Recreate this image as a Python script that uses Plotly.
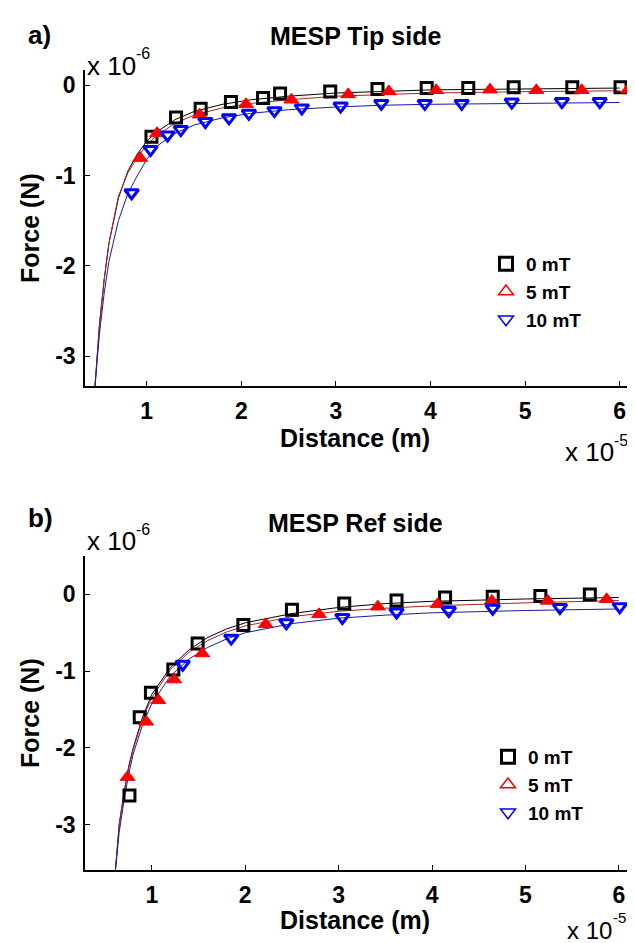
import plotly.graph_objects as go

# ---------------- data (x in units of 1e-5 m, force in units of 1e-6 N) -------------
# Panel a) MESP Tip side
a_x_0mT = [1.05, 1.31, 1.57, 1.89, 2.23, 2.41, 2.94, 3.44, 3.96, 4.40, 4.88, 5.50, 6.01]
a_y_0mT = [-0.57, -0.355, -0.26, -0.185, -0.14, -0.09, -0.067, -0.04, -0.03, -0.03, -0.02, -0.02, -0.02]
a_x_5mT = [0.93, 1.11, 1.56, 2.05, 2.53, 3.13, 3.56, 4.06, 4.63, 5.12, 5.60, 6.09]
a_y_5mT = [-0.806, -0.53, -0.325, -0.21, -0.16, -0.10, -0.067, -0.055, -0.048, -0.055, -0.055, -0.048]
a_x_10mT = [0.84, 1.04, 1.22, 1.36, 1.62, 1.87, 2.08, 2.35, 2.64, 3.05, 3.48, 3.94, 4.33, 4.86, 5.39, 5.79]
a_y_10mT = [-1.19, -0.71, -0.55, -0.49, -0.40, -0.36, -0.31, -0.28, -0.25, -0.23, -0.20, -0.20, -0.20, -0.185, -0.18, -0.18]

# fitted curves, panel a)
fit_x = [0.453, 0.5, 0.55, 0.6, 0.7, 0.8, 0.9, 1.0, 1.1, 1.3, 1.5, 1.8, 2.1, 2.5, 3.0, 3.5, 4.0, 5.0, 6.0]
a_fit_0mT = [-3.33, -2.65, -2.15, -1.75, -1.25, -0.95, -0.76, -0.62, -0.52, -0.38, -0.29, -0.21, -0.16, -0.12, -0.085, -0.065, -0.05, -0.04, -0.03]
a_fit_5mT = [-3.33, -2.65, -2.15, -1.75, -1.23, -0.97, -0.80, -0.66, -0.56, -0.42, -0.33, -0.25, -0.20, -0.16, -0.12, -0.10, -0.085, -0.07, -0.06]
a_fit_10mT = [-3.33, -2.75, -2.30, -1.95, -1.50, -1.20, -1.00, -0.82, -0.68, -0.53, -0.44, -0.36, -0.31, -0.27, -0.24, -0.22, -0.21, -0.20, -0.19]

# Panel b) MESP Ref side
b_x_0mT = [0.76, 0.87, 0.99, 1.23, 1.49, 1.98, 2.50, 3.06, 3.62, 4.14, 4.65, 5.16, 5.69]
b_y_0mT = [-2.62, -1.60, -1.28, -0.98, -0.64, -0.40, -0.20, -0.12, -0.08, -0.04, -0.03, -0.02, 0.0]
b_x_5mT = [0.74, 0.94, 1.07, 1.24, 1.54, 2.22, 2.79, 3.42, 4.06, 4.64, 5.24, 5.87]
b_y_5mT = [-2.38, -1.66, -1.38, -1.11, -0.77, -0.39, -0.26, -0.16, -0.13, -0.085, -0.085, -0.064]
b_x_10mT = [1.33, 1.85, 2.44, 3.04, 3.62, 4.18, 4.65, 5.37, 6.01]
b_y_10mT = [-0.91, -0.57, -0.37, -0.30, -0.23, -0.21, -0.18, -0.17, -0.16]

b_fit_x = [0.61, 0.65, 0.7, 0.75, 0.8, 0.9, 1.0, 1.2, 1.4, 1.6, 1.8, 2.0, 2.5, 3.0, 3.5, 4.0, 5.0, 6.0]
b_fit_0mT = [-3.59, -3.0, -2.6, -2.25, -2.0, -1.6, -1.3, -0.95, -0.72, -0.56, -0.45, -0.37, -0.25, -0.17, -0.12, -0.09, -0.06, -0.04]
b_fit_5mT = [-3.59, -3.0, -2.6, -2.27, -2.02, -1.63, -1.34, -0.98, -0.75, -0.60, -0.49, -0.41, -0.29, -0.22, -0.18, -0.15, -0.11, -0.08]
b_fit_10mT = [-3.59, -3.1, -2.7, -2.35, -2.08, -1.70, -1.42, -1.06, -0.84, -0.69, -0.58, -0.50, -0.38, -0.31, -0.27, -0.24, -0.21, -0.19]

series_names = ["0 mT", "5 mT", "10 mT"]
x_tickvals = [1, 2, 3, 4, 5, 6]
x_ticktext = ["1", "2", "3", "4", "5", "6"]
y_tickvals = [0, -1, -2, -3]
y_ticktext = ["0", "-1", "-2", "-3"]

# ---------------- layout helpers ----------------
W, H = 635, 943
L, R, T, B = 77, 13, 62, 81
PW, PH = W - L - R, H - T - B


def px(xp):
    return (xp - L) / PW


def py(yp):
    return (H - B - yp) / PH


FONT = "Liberation Sans, Arial, Helvetica, sans-serif"
BLACK, RED, BLUE = "#000000", "#ff0000", "#0000ff"
LINE_RED, LINE_BLUE = "#b22222", "#1a1aa8"

fig = go.Figure()


def add_panel(xa, ya, xs, ys, fx, fys, legend):
    colors = [BLACK, RED, BLUE]
    linecols = [BLACK, LINE_RED, LINE_BLUE]
    symbols = ["square-open", "triangle-up", "triangle-down-open"]
    sizes = [11, 13, 12]
    widths = [3, 1, 3]
    for i in range(3):
        fig.add_trace(go.Scatter(x=fx, y=fys[i], mode="lines",
                                 line=dict(color=linecols[i], width=1),
                                 xaxis=xa, yaxis=ya, showlegend=False, hoverinfo="skip"))
    for i in range(3):
        fig.add_trace(go.Scatter(x=xs[i], y=ys[i], mode="markers", name=series_names[i],
                                 marker=dict(symbol=symbols[i], size=sizes[i], color=colors[i],
                                             line=dict(color=colors[i], width=widths[i])),
                                 xaxis=xa, yaxis=ya, showlegend=False))
    leg_symbols = ["square-open", "triangle-up-open", "triangle-down-open"]
    leg_widths = [3, 1.5, 1.5]
    for i in range(3):
        fig.add_trace(go.Scatter(x=[None], y=[None], mode="markers", name=series_names[i],
                                 marker=dict(symbol=leg_symbols[i], size=13, color=colors[i],
                                             line=dict(color=colors[i], width=leg_widths[i])),
                                 xaxis=xa, yaxis=ya, legend=legend, showlegend=True))


add_panel("x", "y", [a_x_0mT, a_x_5mT, a_x_10mT], [a_y_0mT, a_y_5mT, a_y_10mT],
          fit_x, [a_fit_0mT, a_fit_5mT, a_fit_10mT], "legend")
add_panel("x2", "y2", [b_x_0mT, b_x_5mT, b_x_10mT], [b_y_0mT, b_y_5mT, b_y_10mT],
          b_fit_x, [b_fit_0mT, b_fit_5mT, b_fit_10mT], "legend2")

axis_common = dict(showgrid=False, zeroline=False, showline=True, linecolor="black",
                   linewidth=1.5, ticks="inside", ticklen=5, tickcolor="black",
                   tickfont=dict(family=FONT, size=23, color="black", weight="bold"))

fig.update_layout(
    width=W, height=H,
    margin=dict(l=L, r=R, t=T, b=B),
    paper_bgcolor="white", plot_bgcolor="white",
    xaxis=dict(domain=[0, 1], anchor="y", range=[0.347, 6.11], ticklabelstandoff=4,
               tickvals=x_tickvals, ticktext=x_ticktext, **axis_common),
    yaxis=dict(domain=[py(378), 1], anchor="x", range=[-3.33, 0.17], ticklabelstandoff=3,
               tickvals=y_tickvals, ticktext=y_ticktext, **axis_common),
    xaxis2=dict(domain=[0, 1], anchor="y2", range=[0.284, 6.12], ticklabelstandoff=4,
                tickvals=x_tickvals, ticktext=x_ticktext, **axis_common),
    yaxis2=dict(domain=[0, py(548)], anchor="x2", range=[-3.59, 0.5], ticklabelstandoff=3,
                tickvals=y_tickvals, ticktext=y_ticktext, **axis_common),
    legend=dict(x=px(478), y=py(237), xanchor="left", yanchor="top",
                bgcolor="rgba(255,255,255,0)", borderwidth=0,
                font=dict(family=FONT, size=19, color="black", weight="bold")),
    legend2=dict(x=px(480), y=py(730), xanchor="left", yanchor="top",
                 bgcolor="rgba(255,255,255,0)", borderwidth=0,
                 font=dict(family=FONT, size=19, color="black", weight="bold")),
    showlegend=True,
)


def ann(text, x, y, size, xanchor="center", yanchor="middle", angle=0, bold=True):
    fig.add_annotation(text=text, x=px(x), y=py(y), xref="paper", yref="paper",
                       xanchor=xanchor, yanchor=yanchor, showarrow=False, textangle=angle,
                       font=dict(family=FONT, size=size, color="black",
                                 weight="bold" if bold else "normal"))


# panel a) texts
ann("a)", 18, 27, 26, xanchor="left")
ann("MESP Tip side", 347, 28, 25)
ann("x 10", 77, 58, 26, xanchor="left", bold=False)
ann("-6", 126, 46, 16, xanchor="left", bold=False)
ann("Force (N)", 22, 220, 25, angle=-90)
ann("Distance (m)", 347, 430, 25)
ann("x 10", 555, 444, 26, xanchor="left", bold=False)
ann("-5", 604, 432, 16, xanchor="left", bold=False)

# panel b) texts
ann("b)", 18, 510, 26, xanchor="left")
ann("MESP Ref side", 347, 515, 25)
ann("x 10", 77, 533, 26, xanchor="left", bold=False)
ann("-6", 126, 521, 16, xanchor="left", bold=False)
ann("Force (N)", 22, 705, 25, angle=-90)
ann("Distance (m)", 347, 912, 25)
ann("x 10", 557, 922, 24, xanchor="left", bold=False)
ann("-5", 603, 909, 15, xanchor="left", bold=False)

fig.write_html("out.html")
